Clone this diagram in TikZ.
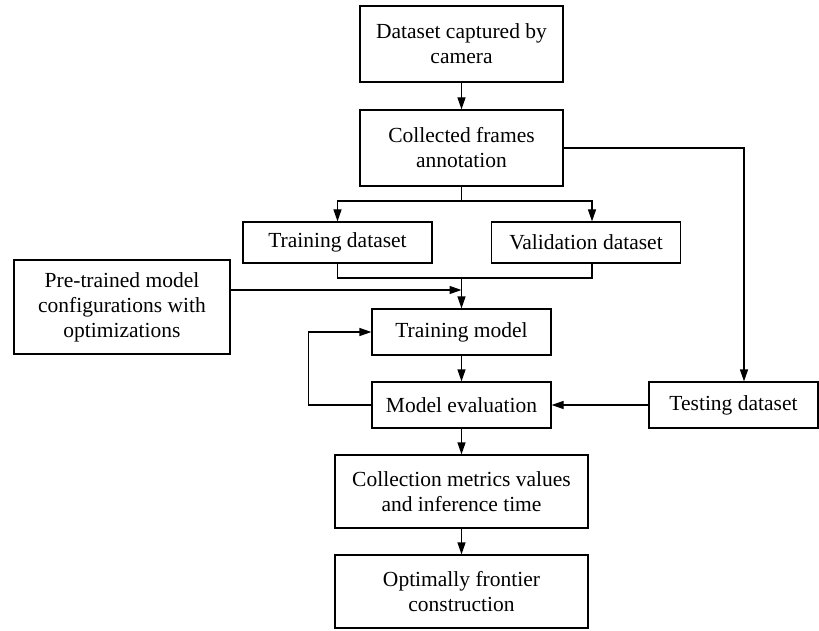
\documentclass[tikz,border=0pt]{standalone}
\usepackage{fontspec}
\setmainfont{Liberation Serif}
\usetikzlibrary{arrows.meta}
\begin{document}
\begin{tikzpicture}[x=1pt,y=-1pt,
  box/.style={draw, line width=1.2pt, align=center, inner sep=0pt,
    font=\fontsize{21.5}{25}\selectfont},
  conn/.style={line width=1.2pt},
  arr/.style={conn, -{Triangle[length=12pt,width=8pt]}}]
\useasboundingbox (0,0) rectangle (819,631);
\node[box, minimum width=203pt, minimum height=76pt] (d1) at (461.5,44) {Dataset captured by\\camera};
\node[box, minimum width=203pt, minimum height=76pt] (d2) at (461.5,148) {Collected frames\\annotation};
\node[box, minimum width=189pt, minimum height=41pt] (train) at (337.5,242.5) {Training dataset};
\node[box, minimum width=189pt, minimum height=41pt] (val) at (586,242.5) {Validation dataset};
\node[box, minimum width=216pt, minimum height=94pt] (pre) at (122,307) {Pre-trained model\\configurations with\\optimizations};
\node[box, minimum width=179pt, minimum height=46pt] (tm) at (461.5,332) {Training model};
\node[box, minimum width=179pt, minimum height=46pt] (me) at (461.5,405) {Model evaluation};
\node[box, minimum width=169pt, minimum height=46pt] (test) at (733.5,405) {Testing dataset};
\node[box, minimum width=253pt, minimum height=73pt] (coll) at (461.5,491.5) {Collection metrics values\\and inference time};
\node[box, minimum width=253pt, minimum height=73pt] (opt) at (461.5,591.5) {Optimally frontier\\construction};
\coordinate (br) at (461.5,201);
\coordinate (mg) at (461.5,278);
\coordinate (pj) at (461.5,290);
\draw[arr] (d1) -- (d2);
\draw[conn] (d2.south) -- (br);
\draw[arr] (br) -| (train.north);
\draw[arr] (br) -| ([xshift=6pt]val.north);
\draw[arr] (d2.east) -| ([xshift=10.5pt]test.north);
\draw[conn] (train.south) |- (mg);
\draw[conn] ([xshift=6pt]val.south) |- (mg);
\draw[arr] (mg) -- (tm.north);
\draw[arr] ([yshift=17pt]pre.east) -- (pj);
\draw[arr] (tm) -- (me);
\draw[arr] (me.west) -- ++(-63,0) |- (tm.west);
\draw[arr] (test.west) -- (me.east);
\draw[arr] (me) -- (coll);
\draw[arr] (coll) -- (opt);
\end{tikzpicture}
\end{document}
